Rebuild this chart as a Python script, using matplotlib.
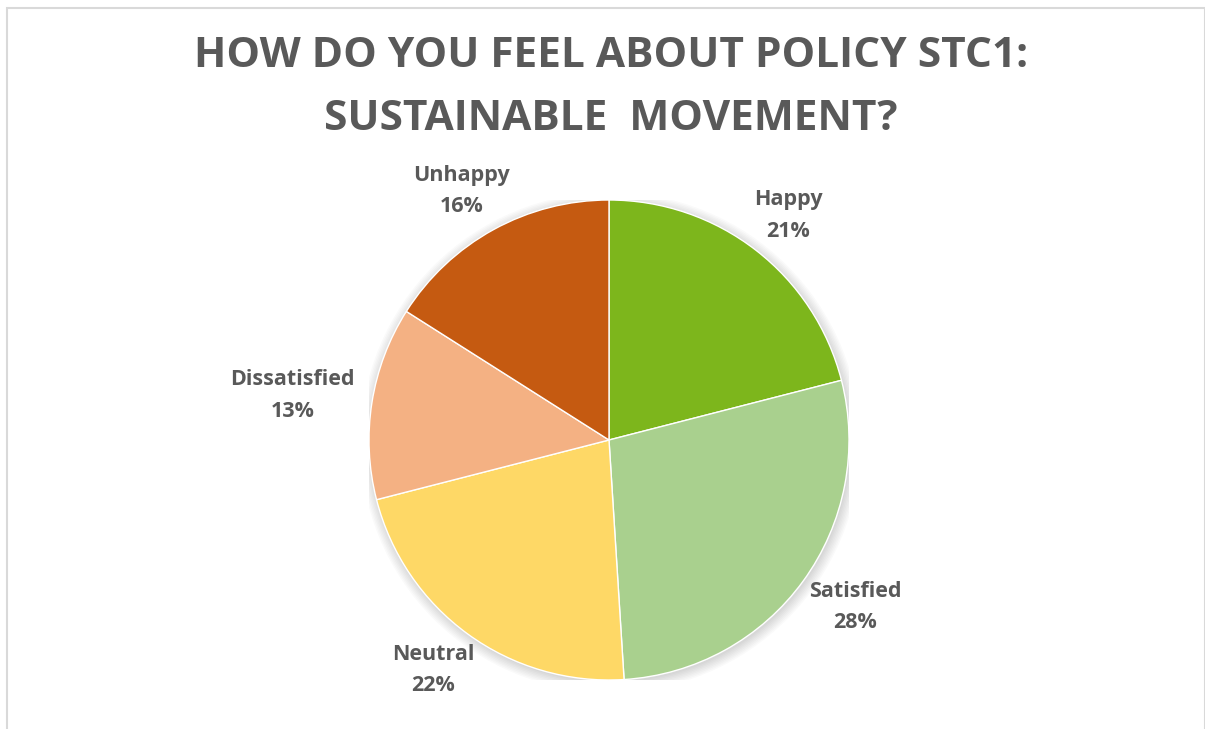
import matplotlib
matplotlib.use("Agg")
import numpy as np
import matplotlib.pyplot as plt
from matplotlib.patches import Circle, Rectangle

categories = ["Happy", "Satisfied", "Neutral", "Dissatisfied", "Unhappy"]
shares = [21, 28, 22, 13, 16]
colors = ["#7DB61C", "#A9D08E", "#FED866", "#F4B183", "#C55A11"]
title = "HOW DO YOU FEEL ABOUT POLICY STC1:\nSUSTAINABLE  MOVEMENT?"

W, H = 1205, 729
fig = plt.figure(figsize=(W / 100, H / 100), dpi=100)
fig.patch.set_facecolor("white")

# thin light frame around the chart area
fig.add_artist(Rectangle((7.5 / W, -0.01), (W - 8) / W, 1 - 7.5 / H + 0.01,
                         transform=fig.transFigure, fill=False,
                         edgecolor="#D9D9D9", linewidth=1.5))

cx, cy, r = 609, 440, 240
ax = fig.add_axes([(cx - r) / W, (H - cy - r) / H, 2 * r / W, 2 * r / H])
ax.set_xlim(-1, 1)
ax.set_ylim(-1, 1)
ax.set_aspect("equal")
ax.axis("off")

# soft drop shadow under the pie
for i in range(8):
    ax.add_patch(Circle((0.006, -0.01), 1.0 + 0.006 * i, facecolor="#000000",
                        alpha=0.018, edgecolor="none", zorder=0))

wedges, _ = ax.pie(shares, colors=colors, startangle=90, counterclock=False,
                   radius=1.0, wedgeprops=dict(edgecolor="white", linewidth=1.0),
                   frame=False)
for w in wedges:
    w.set_zorder(2)
ax.set_xlim(-1, 1)
ax.set_ylim(-1, 1)

# outside-end labels: the label box touches a ring just outside the pie
renderer = fig.canvas.get_renderer()
ring = 1.075
for w, c, v in zip(wedges, categories, shares):
    th = np.deg2rad((w.theta1 + w.theta2) / 2)
    t = ax.text(0, 0, f"{c}\n{v}%", ha="center", va="center", fontsize=15.5,
                fontweight="bold", color="#595959", family="Open Sans",
                linespacing=1.65, zorder=3)
    bb = t.get_window_extent(renderer)
    ox = np.cos(th) * bb.width / 2 / r
    oy = np.sin(th) * bb.height / 2 / r
    t.set_position((ring * np.cos(th) + ox, ring * np.sin(th) + oy))

fig.text(611 / W, 1 - 88 / H, title, ha="center", va="center", fontsize=30.5,
         fontweight="bold", color="#595959", family="Open Sans",
         linespacing=1.7)

fig.savefig("out.png", dpi=100, facecolor="white")
